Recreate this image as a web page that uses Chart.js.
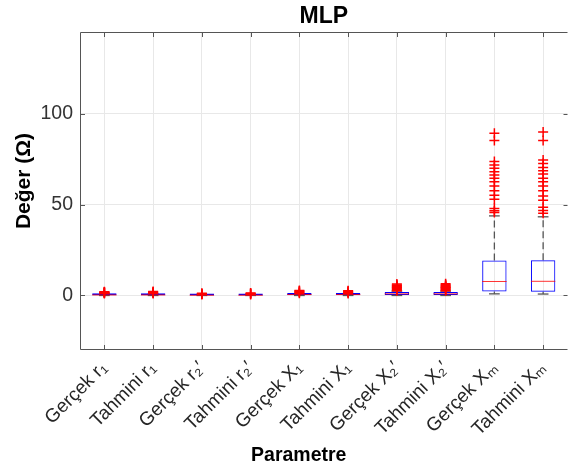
<!DOCTYPE html>
<html>
<head>
<meta charset="utf-8">
<script src="https://cdn.jsdelivr.net/npm/chart.js@4.4.1/dist/chart.umd.min.js"></script>
<style>
  html, body { margin: 0; padding: 0; background: #fff; overflow: hidden; }
  #wrap { position: relative; width: 574px; height: 471px; }
</style>
</head>
<body>
<div id="wrap"><canvas id="chart"></canvas></div>
<script>
// Parametre adlari
const categories = ['Gerçek r\u2081', 'Tahmini r\u2081', 'Gerçek r\u2082\u2032', 'Tahmini r\u2082\u2032',
  'Gerçek X\u2081', 'Tahmini X\u2081', 'Gerçek X\u2082\u2032', 'Tahmini X\u2082\u2032',
  'Gerçek X\u2098', 'Tahmini X\u2098'];

// Kutu grafigi istatistikleri (Ohm)
const q1 = [0.1, 0.1, 0.05, 0.05, 0.2, 0.2, 0.3, 0.3, 2.2, 2.0];
const median = [0.3, 0.3, 0.15, 0.15, 0.5, 0.5, 0.9, 0.9, 7.7, 7.8];
const q3 = [0.6, 0.6, 0.3, 0.3, 0.9, 0.9, 1.9, 1.9, 19.3, 19.4];
const whiskerLow = [0, 0, 0, 0, 0, 0, 0, 0, 0.9, 0.8];
const whiskerHigh = [1.0, 1.0, 0.55, 0.55, 1.1, 1.1, 2.4, 2.4, 43.8, 43.3];
const outliers = [
  [1.1, 1.3, 1.5, 1.7, 1.9, 2.1],
  [1.1, 1.4, 1.6, 1.9, 2.2],
  [0.6, 0.8, 1.0, 1.2],
  [0.6, 0.9, 1.1, 1.3],
  [1.2, 1.6, 2.0, 2.4, 2.8],
  [1.1, 1.5, 1.9, 2.3, 2.6],
  [2.6, 3.0, 3.4, 3.8, 4.2, 4.6, 5.0, 5.4, 5.8, 6.3],
  [2.6, 3.0, 3.4, 3.8, 4.2, 4.6, 5.0, 5.4, 5.9, 6.4],
  [45.6, 46.6, 47.9, 52.9, 55.2, 57.6, 60.2, 62.6, 64.5, 66.3, 68.1, 70.0, 71.8, 73.7, 85.3, 89.3],
  [45.2, 46.8, 48.5, 52.4, 54.7, 57.6, 60.2, 62.6, 64.5, 66.8, 68.6, 70.5, 72.6, 74.6, 85.3, 89.9]
];
const yTicks = [0, 50, 100];
const yMin = -30;
const yMax = 145;

const FONT = "'Liberation Sans', Arial, Helvetica, sans-serif";

const outlierPoints = [];
outliers.forEach((list, i) => list.forEach(v => outlierPoints.push({ x: categories[i], y: v })));

const strokeLine = (ctx, x1, y1, x2, y2) => {
  ctx.beginPath(); ctx.moveTo(x1, y1); ctx.lineTo(x2, y2); ctx.stroke();
};

// Kutu parcalari: biyikler ve uc cizgileri (kutunun altinda), medyan (ustte)
const boxParts = {
  id: 'boxParts',
  beforeDatasetsDraw(chart) {
    const ctx = chart.ctx;
    const y = chart.scales.y;
    const bars = chart.getDatasetMeta(1).data;
    ctx.save();
    bars.forEach((bar, i) => {
      const cx = bar.x;
      const cap = bar.width * 0.22;
      const yHi = y.getPixelForValue(whiskerHigh[i]);
      const yLo = y.getPixelForValue(whiskerLow[i]);
      ctx.strokeStyle = '#555';
      ctx.lineWidth = 1.3;
      ctx.setLineDash([7, 4]);
      strokeLine(ctx, cx, y.getPixelForValue(q3[i]), cx, yHi);
      strokeLine(ctx, cx, y.getPixelForValue(q1[i]), cx, yLo);
      ctx.setLineDash([]);
      strokeLine(ctx, cx - cap, yHi, cx + cap, yHi);
      strokeLine(ctx, cx - cap, yLo, cx + cap, yLo);
    });
    ctx.restore();
  },
  afterDatasetsDraw(chart) {
    const ctx = chart.ctx;
    const y = chart.scales.y;
    const bars = chart.getDatasetMeta(1).data;
    ctx.save();
    ctx.strokeStyle = 'rgba(255,0,0,0.8)';
    ctx.lineWidth = 1;
    bars.forEach((bar, i) => {
      const half = bar.width / 2;
      const ym = y.getPixelForValue(median[i]);
      strokeLine(ctx, bar.x - half, ym, bar.x + half, ym);
    });
    ctx.restore();
  }
};

// Eksen cizgileri, ice bakan tik isaretleri ve eksen basliklari
const frame = {
  id: 'frame',
  afterDraw(chart) {
    const ctx = chart.ctx;
    const { left, right, top, bottom } = chart.chartArea;
    const x = chart.scales.x, y = chart.scales.y;
    ctx.save();
    ctx.strokeStyle = '#555';
    ctx.lineWidth = 1;
    ctx.beginPath();
    ctx.moveTo(right, top + 0.5); ctx.lineTo(left + 0.5, top + 0.5);
    ctx.lineTo(left + 0.5, bottom - 0.5); ctx.lineTo(right, bottom - 0.5);
    categories.forEach((c, i) => {
      const px = Math.round(x.getPixelForValue(i)) + 0.5;
      ctx.moveTo(px, bottom); ctx.lineTo(px, bottom - 5);
      ctx.moveTo(px, top); ctx.lineTo(px, top + 5);
    });
    yTicks.forEach(v => {
      const py = Math.round(y.getPixelForValue(v)) + 0.5;
      ctx.moveTo(left, py); ctx.lineTo(left + 5, py);
      ctx.moveTo(right, py); ctx.lineTo(right - 4, py);
    });
    ctx.stroke();

    ctx.fillStyle = '#000';
    ctx.font = 'bold 19.5px ' + FONT;
    ctx.textAlign = 'center';
    ctx.textBaseline = 'alphabetic';
    ctx.fillText('Parametre', (left + right) / 2 - 25, 461);
    ctx.font = 'bold 21px ' + FONT;
    ctx.translate(24, (top + bottom) / 2 - 10);
    ctx.rotate(-Math.PI / 2);
    ctx.textBaseline = 'middle';
    ctx.fillText('Değer (Ω)', 0, 0);
    ctx.restore();
  }
};

new Chart(document.getElementById('chart'), {
  type: 'bar',
  data: {
    labels: categories,
    datasets: [
      {
        type: 'line',
        label: 'Aykırı',
        data: outlierPoints,
        showLine: false,
        pointStyle: 'cross',
        pointRadius: 5,
        pointHoverRadius: 5,
        pointBorderWidth: 1.5,
        pointBorderColor: '#ff0000',
        pointBackgroundColor: '#ff0000'
      },
      {
        label: 'Kutu',
        data: categories.map((c, i) => [q1[i], q3[i]]),
        backgroundColor: 'rgba(0,0,0,0)',
        borderColor: '#0000ff',
        borderWidth: 1,
        borderSkipped: false,
        minBarLength: 2,
        barPercentage: 0.5,
        categoryPercentage: 1
      }
    ]
  },
  options: {
    responsive: true,
    maintainAspectRatio: false,
    animation: false,
    layout: { padding: { left: 0, right: 0, top: 0, bottom: 0 } },
    plugins: {
      legend: { display: false },
      tooltip: { enabled: false },
      title: {
        display: true,
        text: 'MLP',
        fullSize: false,
        color: '#000',
        font: { family: FONT, size: 23, weight: 'bold' },
        padding: { top: 3, bottom: 1.4 }
      }
    },
    scales: {
      x: {
        offset: true,
        grid: { offset: false, color: '#e8e8e8', drawTicks: false },
        border: { display: false },
        ticks: {
          autoSkip: false,
          maxRotation: 45,
          minRotation: 45,
          padding: 7,
          color: '#262626',
          font: { family: FONT, size: 19 }
        },
        afterFit(scale) {
          scale.height = 121;
          scale.paddingRight = 0;
        }
      },
      y: {
        min: yMin,
        max: yMax,
        grid: { color: '#e8e8e8', drawTicks: false },
        border: { display: false },
        ticks: {
          padding: 7,
          color: '#333',
          font: { family: FONT, size: 19.5 }
        },
        afterBuildTicks(scale) { scale.ticks = yTicks.map(v => ({ value: v })); },
        afterFit(scale) { scale.width = 80; }
      }
    }
  },
  plugins: [boxParts, frame]
});
</script>
</body>
</html>
